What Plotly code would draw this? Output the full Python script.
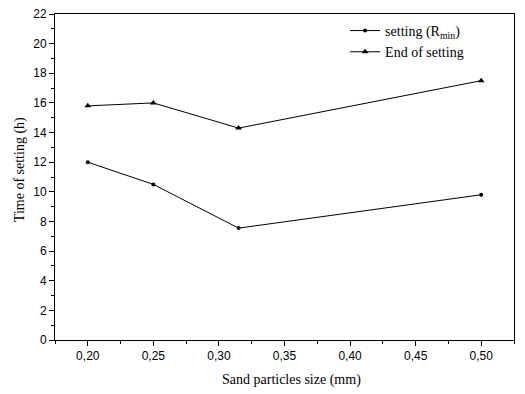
import plotly.graph_objects as go

sizes = [0.20, 0.25, 0.315, 0.50]
setting = [12.0, 10.5, 7.55, 9.8]
end_setting = [15.8, 16.0, 14.3, 17.5]
x_ticks = [0.20, 0.25, 0.30, 0.35, 0.40, 0.45, 0.50]
x_tick_labels = ["0,20", "0,25", "0,30", "0,35", "0,40", "0,45", "0,50"]
y_ticks = list(range(0, 23, 2))

fig = go.Figure()
fig.add_trace(go.Scatter(x=sizes, y=setting, mode="lines+markers",
                         name="setting (R<sub>min</sub>)",
                         line=dict(color="black", width=1),
                         marker=dict(symbol="circle", size=4, color="black")))
fig.add_trace(go.Scatter(x=sizes, y=end_setting, mode="lines+markers",
                         name="End of setting",
                         line=dict(color="black", width=1),
                         marker=dict(symbol="triangle-up", size=6, color="black")))

axis_common = dict(showline=True, linecolor="black", linewidth=1, mirror=True,
                   ticks="outside", ticklen=5, tickcolor="black", showgrid=False,
                   zeroline=False, automargin=False, ticklabeloverflow="allow",
                   tickfont=dict(family="Liberation Sans, Arial", size=12, color="black"))

title_font = dict(family="Liberation Serif, Times New Roman", size=14, color="black")

fig.update_xaxes(range=[0.175, 0.525], tickvals=x_ticks, ticktext=x_tick_labels,
                 minor=dict(ticks="outside", ticklen=3, tickcolor="black", dtick=0.025, tick0=0.175),
                 **axis_common)
fig.update_yaxes(range=[0, 22], tickvals=y_ticks,
                 minor=dict(ticks="outside", ticklen=3, tickcolor="black", dtick=1),
                 **axis_common)

fig.add_annotation(text="Sand particles size (mm)", xref="paper", yref="paper",
                   x=0.516, y=0, yanchor="middle", yshift=-40, showarrow=False,
                   font=title_font)
fig.add_annotation(text="Time of setting (h)", xref="paper", yref="paper",
                   x=0, y=0.521, xanchor="center", yanchor="middle", xshift=-35,
                   textangle=-90, showarrow=False, font=title_font)

# page body has an 8px margin; compensate so the plot area lands where the reference has it
fig.update_layout(width=517, height=386, margin=dict(l=47, r=11, t=6, b=54),
                  plot_bgcolor="white", paper_bgcolor="white",
                  showlegend=True,
                  legend=dict(x=0.632, y=0.997, xanchor="left", yanchor="top",
                              bgcolor="rgba(0,0,0,0)", tracegroupgap=0,
                              itemwidth=30,
                              font=dict(family="Liberation Serif, Times New Roman", size=14, color="black")))

fig.write_html("out.html")
